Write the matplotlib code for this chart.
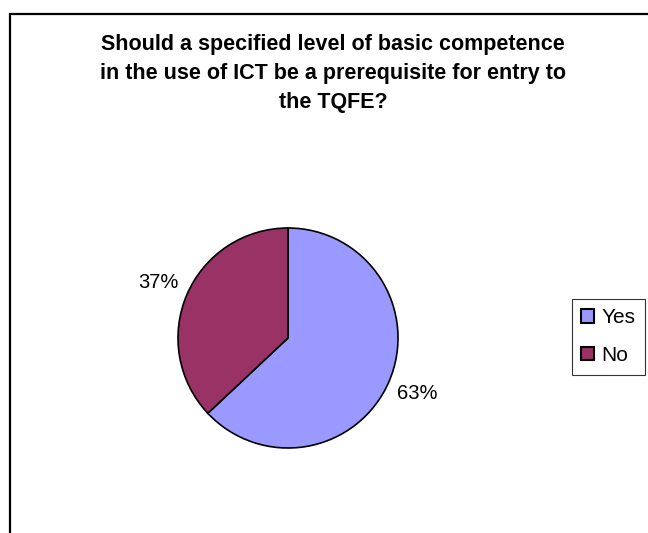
import matplotlib
matplotlib.use("Agg")
import matplotlib.pyplot as plt
from matplotlib.patches import Rectangle

plt.rcParams['font.family'] = ['Liberation Sans', 'DejaVu Sans']

# data
categories = ['Yes', 'No']
shares = [63, 37]
colors = ['#9999FF', '#993366']
title_lines = ['Should a specified level of basic competence',
               'in the use of ICT be a prerequisite for entry to',
               'the TQFE?']

W, H = 648, 533
fig = plt.figure(figsize=(W / 100, H / 100), dpi=100)

# pie centre (288, 338) px, radius 110 px
cx, cy, r = 288, 338, 110
ax = fig.add_axes([(cx - r) / W, (H - cy - r) / H, 2 * r / W, 2 * r / H])
wedges, texts, autotexts = ax.pie(
    shares, colors=colors, startangle=90, counterclock=False,
    autopct='%1.0f%%', pctdistance=1.28,
    wedgeprops=dict(edgecolor='black', linewidth=1.2),
    textprops=dict(fontsize=14.5, color='black'))
ax.set_xlim(-1, 1)
ax.set_ylim(-1, 1)
ax.set_aspect('equal')

# title, one line at a time
baselines = [50, 79, 108]
for line, yb in zip(title_lines, baselines):
    fig.text(333 / W, 1 - yb / H, line, ha='center', va='baseline',
             fontsize=15.5, fontweight='bold')

leg = fig.legend(wedges, categories, loc='upper left',
                 bbox_to_anchor=(572 / W, 1 - 299 / H),
                 fontsize=15, frameon=True, fancybox=False, shadow=False,
                 handlelength=0.6, handleheight=0.6, handletextpad=0.35,
                 labelspacing=0.9, borderpad=0.45, borderaxespad=0)
leg.get_frame().set_edgecolor('black')
leg.get_frame().set_linewidth(0.8)
for h in leg.legend_handles:
    h.set_edgecolor('black')
    h.set_linewidth(1.5)

# chart area border (right and bottom edges fall outside the picture)
fig.patches.append(Rectangle((10 / W, -0.1), 1.2, 1 - 14 / H + 0.1,
                             transform=fig.transFigure, fill=False,
                             edgecolor='black', linewidth=1.6))

fig.savefig('out.png', dpi=100)
